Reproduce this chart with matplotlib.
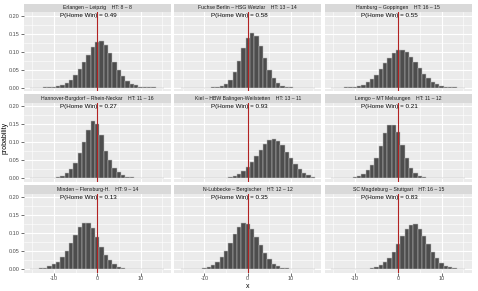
import matplotlib
matplotlib.use("Agg")
import matplotlib.pyplot as plt
import numpy as np

plt.rcParams['font.family'] = ['Liberation Sans', 'DejaVu Sans']

goal_diff = list(range(-15, 16))

titles = [
    "Erlangen – Leipzig    HT: 8 – 8",
    "Fuchse Berlin – HSG Wetzlar    HT: 13 – 14",
    "Hamburg – Goppingen    HT: 16 – 15",
    "Hannover-Burgdorf – Rhein-Neckar    HT: 11 – 16",
    "Kiel – HBW Balingen-Weilstetten    HT: 13 – 11",
    "Lemgo – MT Melsungen    HT: 11 – 12",
    "Minden – Flensburg-H.    HT: 9 – 14",
    "N-Lubbecke – Bergischer    HT: 12 – 12",
    "SC Magdeburg – Stuttgart    HT: 16 – 15",
]
p_home_win = [0.49, 0.58, 0.55, 0.27, 0.93, 0.21, 0.13, 0.35, 0.83]

# probabilities for goal differences -15 .. 15
prob_erlangen = [0, 0, 0.0002, 0.0005, 0.001, 0.002, 0.004, 0.008, 0.014, 0.022, 0.035, 0.052, 0.071, 0.092, 0.112,
                 0.127, 0.130, 0.118, 0.095, 0.070, 0.049, 0.031, 0.019, 0.011, 0.006, 0.003, 0.0015, 0.0007, 0.0003, 0.0001, 0]
prob_fuchse = [0, 0, 0, 0, 0, 0, 0, 0.0003, 0.0012, 0.0036, 0.0097, 0.0221, 0.0438, 0.0746, 0.1096,
               0.139, 0.152, 0.143, 0.1164, 0.0815, 0.0493, 0.0256, 0.0115, 0.0045, 0.0015, 0.0004, 0.0001, 0, 0, 0, 0]
prob_hamburg = [0, 0, 0.0002, 0.0004, 0.0010, 0.0021, 0.0043, 0.0081, 0.0142, 0.0233, 0.0355, 0.0505, 0.0671, 0.0831, 0.0961,
                0.1037, 0.1044, 0.0981, 0.0860, 0.0704, 0.0537, 0.0383, 0.0255, 0.0158, 0.0091, 0.0049, 0.0025, 0.0012, 0.0005, 0.0002, 0]
prob_hannover = [0, 0, 0, 0.0002, 0.0005, 0.0012, 0.003, 0.006, 0.013, 0.024, 0.041, 0.071, 0.100, 0.133, 0.158,
                 0.150, 0.120, 0.076, 0.050, 0.028, 0.016, 0.008, 0.004, 0.0018, 0.0008, 0.0003, 0, 0, 0, 0, 0]
prob_kiel = [0, 0, 0, 0, 0, 0, 0, 0, 0, 0, 0.0015, 0.003, 0.006, 0.011, 0.019,
             0.030, 0.045, 0.062, 0.079, 0.095, 0.106, 0.110, 0.104, 0.091, 0.074, 0.055, 0.038, 0.024, 0.014, 0.0075, 0.0035]
prob_lemgo = [0, 0, 0.0002, 0.0005, 0.0012, 0.0028, 0.006, 0.012, 0.022, 0.037, 0.057, 0.090, 0.125, 0.148, 0.149,
              0.127, 0.091, 0.056, 0.029, 0.013, 0.005, 0.002, 0.0008, 0.0003, 0, 0, 0, 0, 0, 0, 0]
prob_minden = [0.0005, 0.001, 0.002, 0.004, 0.008, 0.013, 0.021, 0.033, 0.050, 0.072, 0.096, 0.116, 0.129, 0.128, 0.115,
               0.090, 0.062, 0.040, 0.024, 0.013, 0.007, 0.0035, 0.0015, 0.0006, 0.0002, 0, 0, 0, 0, 0, 0]
prob_luebbecke = [0, 0, 0, 0.0003, 0.001, 0.0025, 0.005, 0.010, 0.019, 0.033, 0.051, 0.074, 0.098, 0.118, 0.128,
                  0.126, 0.111, 0.090, 0.066, 0.044, 0.027, 0.015, 0.008, 0.004, 0.0018, 0.0007, 0.0003, 0, 0, 0, 0]
prob_magdeburg = [0, 0, 0, 0, 0, 0, 0.0002, 0.0005, 0.0012, 0.0027, 0.0055, 0.011, 0.019, 0.031, 0.048,
                  0.069, 0.092, 0.112, 0.124, 0.125, 0.113, 0.093, 0.070, 0.048, 0.030, 0.017, 0.009, 0.0045, 0.002, 0.0008, 0.0003]

series = [prob_erlangen, prob_fuchse, prob_hamburg, prob_hannover, prob_kiel,
          prob_lemgo, prob_minden, prob_luebbecke, prob_magdeburg]

x_ticks = [-10, 0, 10]
x_minor = [-15, -5, 5, 15]
y_ticks = [0.00, 0.05, 0.10, 0.15, 0.20]
y_minor = [0.025, 0.075, 0.125, 0.175]
y_ticklabels = ["0.00", "0.05", "0.10", "0.15", "0.20"]

W, H = 478, 291
fig = plt.figure(figsize=(W / 100, H / 100), dpi=100)
fig.patch.set_facecolor('white')


def rect(l, t, w, h):
    return [l / W, 1 - (t + h) / H, w / W, h / H]


col_left = [23.5, 174, 324.5]
pw = 147.5
strip_top = [3.5, 94, 185]
sh = 8.5
ph = 79

for i in range(9):
    r, c = divmod(i, 3)
    # strip
    sax = fig.add_axes(rect(col_left[c], strip_top[r], pw, sh))
    sax.set_facecolor('#D9D9D9')
    sax.set_xticks([]); sax.set_yticks([])
    for s in sax.spines.values():
        s.set_visible(False)
    sax.text(0.5, 0.5, titles[i], ha='center', va='center', fontsize=3.7,
             color='#1A1A1A', transform=sax.transAxes)
    # panel
    ax = fig.add_axes(rect(col_left[c], strip_top[r] + sh, pw, ph))
    ax.set_facecolor('#EBEBEB')
    for s in ax.spines.values():
        s.set_visible(False)
    ax.set_axisbelow(True)
    ax.set_xlim(-17, 17)
    ax.set_ylim(-0.0095, 0.2105)
    ax.set_xticks(x_ticks)
    ax.set_xticks(x_minor, minor=True)
    ax.set_yticks(y_ticks)
    ax.set_yticks(y_minor, minor=True)
    ax.grid(which='major', color='white', linewidth=0.8)
    ax.grid(which='minor', color='white', linewidth=0.4)
    ax.bar(goal_diff, series[i], width=1.0, color='#4D4D4D',
           edgecolor='#BDBDBD', linewidth=0.35, zorder=2)
    ax.axvline(0, color='#B22222', linewidth=0.8, zorder=3)
    ax.text(-2, 0.2, f"P(Home Win) = {p_home_win[i]:.2f}", ha='center', va='center',
            fontsize=4.5, color='black', zorder=4)
    ax.tick_params(which='major', length=2.0, width=0.5, color='#333333',
                   labelsize=4, labelcolor='#4D4D4D', pad=0.8)
    ax.tick_params(which='minor', length=0)
    if c == 0:
        ax.set_yticklabels(y_ticklabels)
    else:
        ax.tick_params(axis='y', which='major', length=0, labelleft=False)
    if r == 2:
        ax.set_xticklabels([str(v) for v in x_ticks])
    else:
        ax.tick_params(axis='x', which='major', length=0, labelbottom=False)

fig.text(5.5 / W, 1 - 138 / H, 'probability', rotation=90, ha='center', va='center', fontsize=5)
fig.text(247.5 / W, 1 - 286 / H, 'x', ha='center', va='center', fontsize=5)

fig.savefig('out.png', dpi=100, facecolor='white')
